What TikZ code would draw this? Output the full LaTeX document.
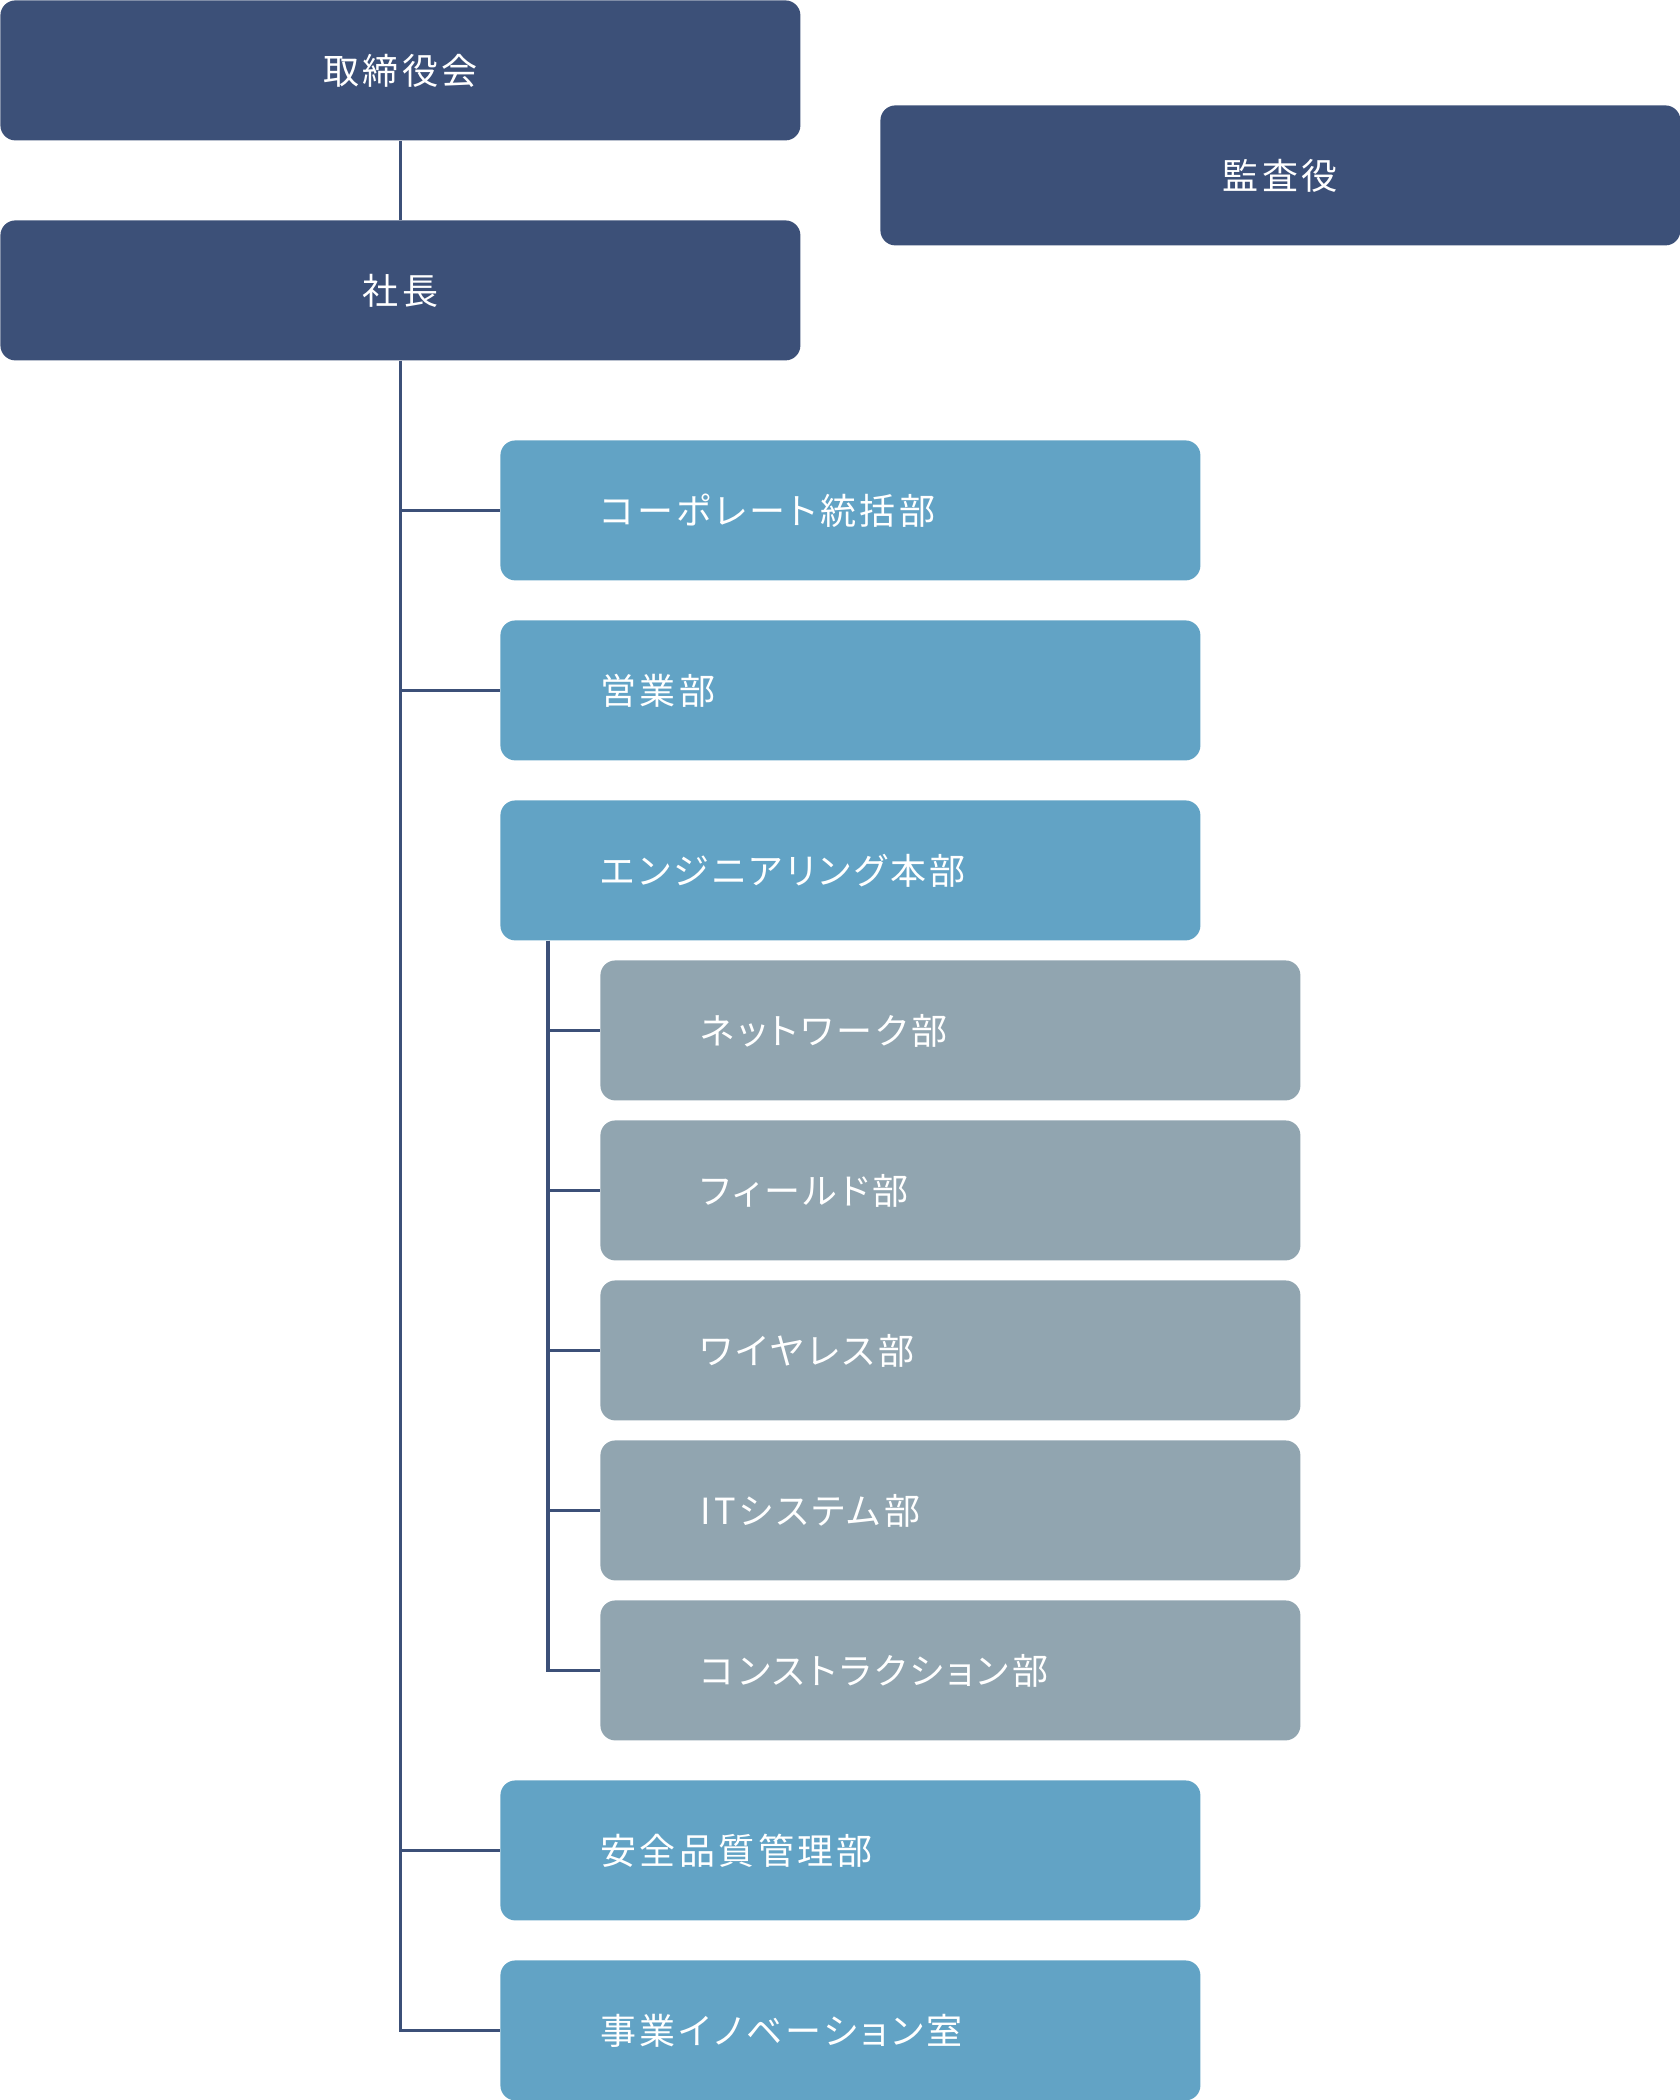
\documentclass[tikz,border=0pt]{standalone}
\usepackage{fontspec}
\newfontfamily\jpfont[LetterSpace=9.5, RawFeature=+palt]{Noto Sans CJK JP}
\definecolor{navy}{HTML}{3C5078}
\definecolor{sky}{HTML}{62A3C5}
\definecolor{slate}{HTML}{91A5B0}

\begin{document}
\begin{tikzpicture}[x=0.5pt, y=-0.5pt, font=\jpfont\fontsize{18}{21}\selectfont,
  box/.style={rectangle, rounded corners=7.5pt, text=white, minimum height=70pt, anchor=north west, inner sep=0pt},
  top/.style={box, fill=navy, minimum width=400pt},
  dept/.style={box, fill=sky, text width=250pt, inner xsep=50pt, align=left},
  sect/.style={box, fill=slate, text width=250pt, inner xsep=50pt, align=left},
  link/.style={draw=navy, line width=1.6pt}]
\useasboundingbox (0,0) rectangle (1680,2100);

\node[top] (board) at (0,0) {取締役会};
\node[top] (audit) at (880,105) {監査役};
\node[top] (shacho) at (0,220) {社長};

\foreach \y/\n/\lbl in {440/corp/コーポレート統括部, 620/sales/営業部, 800/eng/エンジニアリング本部, 1780/safety/安全品質管理部, 1960/innov/事業イノベーション室}
{
\node[dept] (\n) at (500,\y) {\lbl};
}

\foreach \y/\n/\lbl in {960/net/ネットワーク部, 1120/field/フィールド部, 1280/wire/ワイヤレス部, 1440/its/ITシステム部, 1600/cons/コンストラクション部}
{
\node[sect] (\n) at (600,\y) {\lbl};
}

\draw[link] (board) -- (shacho);
\foreach \n in {corp,sales,safety,innov}
{
\draw[link] (shacho.south) |- (\n.west);
}
\foreach \n in {net,field,wire,its,cons}
{
\draw[link] ([xshift=24pt]eng.south west) |- (\n.west);
}
\end{tikzpicture}
\end{document}
